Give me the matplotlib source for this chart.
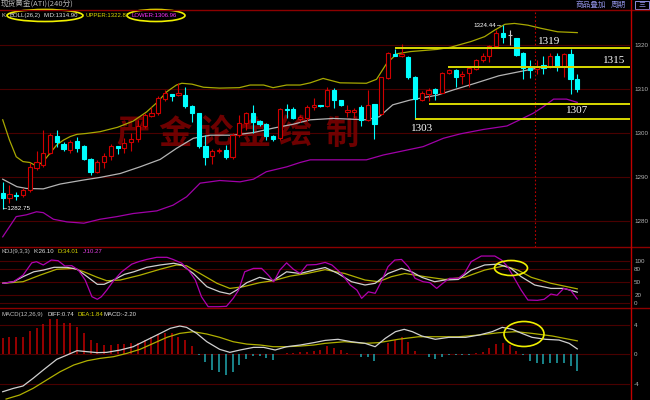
import numpy as np
import matplotlib
matplotlib.use("Agg")
import matplotlib.pyplot as plt
from matplotlib.patches import Ellipse, Rectangle

plt.rcParams['font.family'] = ['Liberation Sans', 'Noto Sans CJK SC', 'DejaVu Sans']

# 240-minute candles of spot gold
opens = [1286.3, 1285.2, 1286.0, 1285.9, 1287.0, 1292.0, 1292.7, 1295.5, 1299.3, 1297.4,
         1296.1, 1298.2, 1297.0, 1294.0, 1291.2, 1293.3, 1294.7, 1297.0, 1296.7, 1298.0,
         1298.6, 1301.6, 1303.9, 1304.6, 1307.8, 1308.9, 1308.7, 1308.6, 1306.1, 1304.6,
         1297.0, 1294.8, 1296.0, 1296.2, 1294.6, 1299.5, 1302.3, 1304.6, 1302.7, 1302.0,
         1299.3, 1298.8, 1305.5, 1305.4, 1303.1, 1303.3, 1305.8, 1306.2, 1306.1, 1309.8,
         1307.5, 1304.8, 1304.8, 1305.8, 1303.0, 1306.6, 1304.3, 1312.4, 1318.0, 1317.5,
         1317.3, 1312.8, 1307.5, 1308.9, 1309.9, 1309.2, 1313.6, 1314.3, 1313.0, 1313.6,
         1314.6, 1316.6, 1317.4, 1319.8, 1322.7, 1322.2, 1321.5, 1318.1, 1314.7, 1314.6,
         1315.4, 1315.0, 1317.5, 1315.1, 1317.9, 1312.2]
highs = [1288.9, 1288.2, 1286.7, 1287.4, 1293.1, 1295.8, 1300.7, 1299.9, 1300.7, 1297.9,
         1298.4, 1299.1, 1297.2, 1294.3, 1293.9, 1295.4, 1297.6, 1297.0, 1298.8, 1299.9,
         1303.0, 1304.5, 1306.0, 1308.3, 1309.8, 1308.9, 1311.3, 1310.5, 1306.4, 1304.6,
         1299.5, 1296.3, 1296.6, 1297.2, 1299.9, 1304.1, 1304.8, 1306.4, 1302.9, 1302.3,
         1299.5, 1305.6, 1306.7, 1305.8, 1304.1, 1306.3, 1307.9, 1306.3, 1310.5, 1310.2,
         1307.6, 1306.4, 1305.6, 1306.3, 1309.8, 1306.6, 1312.7, 1318.3, 1319.2, 1320.2,
         1317.5, 1312.9, 1309.6, 1310.2, 1310.2, 1313.8, 1314.5, 1314.5, 1314.2, 1315.1,
         1316.9, 1318.1, 1320.0, 1323.4, 1324.44, 1323.4, 1321.7, 1318.3, 1316.6, 1316.7,
         1317.4, 1318.1, 1318.1, 1318.1, 1319.2, 1313.5]
lows = [1282.75, 1284.0, 1284.8, 1285.5, 1286.7, 1291.6, 1292.3, 1295.3, 1296.9, 1295.9,
        1295.4, 1295.7, 1293.8, 1290.5, 1290.8, 1292.0, 1293.8, 1295.3, 1295.4, 1295.8,
        1298.0, 1301.2, 1303.7, 1304.2, 1307.3, 1307.3, 1308.5, 1305.7, 1302.6, 1296.5,
        1292.7, 1292.9, 1295.5, 1294.0, 1294.0, 1299.1, 1300.7, 1300.0, 1301.5, 1298.5,
        1298.2, 1298.4, 1303.3, 1303.1, 1302.6, 1302.7, 1305.3, 1306.0, 1305.9, 1305.6,
        1306.1, 1303.7, 1303.5, 1301.6, 1302.7, 1298.6, 1304.1, 1312.2, 1317.6, 1317.3,
        1312.3, 1303.1, 1307.3, 1307.3, 1307.6, 1309.0, 1313.4, 1310.5, 1311.2, 1310.5,
        1314.4, 1316.1, 1316.1, 1319.6, 1320.5, 1320.0, 1317.4, 1312.2, 1312.4, 1313.3,
        1313.3, 1314.7, 1314.1, 1312.8, 1308.9, 1309.3]
closes = [1285.2, 1286.2, 1285.6, 1287.0, 1292.3, 1293.5, 1295.5, 1299.5, 1298.0, 1296.3,
          1298.0, 1296.5, 1294.0, 1291.2, 1293.3, 1294.8, 1297.0, 1296.6, 1297.8, 1298.7,
          1301.6, 1304.1, 1304.6, 1307.9, 1309.2, 1308.5, 1309.2, 1306.1, 1304.6, 1297.0,
          1294.6, 1295.8, 1296.2, 1294.6, 1299.5, 1302.3, 1304.6, 1302.6, 1302.0, 1299.3,
          1298.7, 1305.4, 1305.3, 1303.3, 1303.7, 1305.8, 1306.4, 1306.1, 1309.8, 1307.5,
          1306.4, 1305.3, 1305.2, 1303.0, 1306.4, 1302.0, 1312.7, 1318.1, 1317.6, 1318.0,
          1312.7, 1307.7, 1309.2, 1309.8, 1309.2, 1313.6, 1314.3, 1312.7, 1313.4, 1314.7,
          1316.6, 1317.5, 1319.8, 1322.7, 1321.8, 1322.2, 1317.7, 1314.7, 1314.3, 1315.0,
          1314.8, 1317.5, 1315.1, 1317.9, 1312.2, 1309.9]

# BOLL(26,2) bands, sampled at candle positions
upper_i = [0, 1, 2, 3, 4, 5, 6, 7, 8, 9, 10, 11, 12.4, 14.4, 17, 19.3, 21.3, 22.8, 24.3, 25.7,
           26.5, 28, 29.7, 32.1, 35, 36.6, 38.6, 40, 42, 44, 45.5, 47.4, 49.9, 53.8, 55.3,
           56.8, 58.3, 60.3, 64.3, 66.3, 69.3, 71.3, 72.8, 74.3, 75.7, 77.7, 79.6, 82.1, 85]
upper_p = [1303.0, 1298.4, 1294.6, 1293.5, 1293.3, 1292.5, 1293.5, 1295.4, 1297.3, 1298.4,
           1299.2, 1299.7, 1299.9, 1300.3, 1301.3, 1302.7, 1304.8, 1306.9, 1309.4, 1310.9,
           1311.3, 1311.1, 1310.4, 1310.2, 1310.3, 1310.9, 1310.9, 1310.3, 1310.9, 1310.9,
           1311.4, 1312.4, 1311.4, 1311.3, 1312.2, 1315.8, 1318.0, 1318.5, 1319.0, 1319.5,
           1320.8, 1321.9, 1323.4, 1324.7, 1324.9, 1324.5, 1323.8, 1323.0, 1322.81]
mid_i = [0, 2.1, 3.5, 6, 8.5, 11.9, 14.4, 17.4, 20.3, 23.3, 25.7, 28.2, 30.7, 34.1, 37.1, 40,
         43, 45.5, 48.9, 53.8, 55.7, 57.7, 60.3, 64.3, 66.7, 69.9, 73.4, 77.3, 80.3, 85]
mid_p = [1289.5, 1287.8, 1287.4, 1287.3, 1288.4, 1289.3, 1289.9, 1290.8, 1292.3, 1294.0,
         1296.5, 1298.8, 1299.5, 1299.5, 1300.1, 1301.1, 1302.0, 1303.0, 1303.3, 1303.0,
         1303.7, 1306.4, 1307.5, 1308.6, 1309.8, 1311.3, 1313.0, 1314.2, 1315.1, 1314.90]
lower_i = [0, 1, 2, 3.5, 5, 6, 7.5, 9.5, 12, 14.4, 16.9, 19.3, 22.8, 25.2, 27.2, 29.2, 32.1,
           35.1, 37.1, 39, 42, 44, 45.5, 48.9, 53.8, 56.3, 58.8, 62.2, 65.2, 67.7, 71.1, 74.6,
           76.5, 78.5, 80, 81.5, 83.4, 85]
lower_p = [1276.4, 1278.7, 1281.0, 1281.4, 1282.1, 1281.9, 1280.4, 1279.8, 1279.5, 1280.4,
           1281.0, 1281.7, 1282.3, 1283.6, 1285.5, 1288.6, 1289.2, 1288.9, 1289.5, 1291.2,
           1292.3, 1293.3, 1293.9, 1293.9, 1293.9, 1295.0, 1295.8, 1296.9, 1298.8, 1299.8,
           1300.8, 1301.6, 1303.0, 1304.5, 1306.0, 1307.7, 1307.7, 1306.96]

# hand-drawn support / resistance levels
levels = [1319.4, 1315.1, 1306.7, 1303.2]
level_start = [58.1, 65.9, 63.1, 61.0]
level_text = ['1319', '1315', '1307', '1303']

# KDJ(9,3,3)
k_i = [0, 1.6, 3, 4.6, 6, 7.6, 9.5, 11, 12.5, 14, 15, 16.4, 18, 19.4, 21.3, 23.3, 25.3, 26.5,
       28.2, 30.2, 32.1, 33.6, 34.6, 36.1, 38, 40, 42, 44, 46, 47.7, 49.6, 51.6, 53.6, 55.1,
       57, 59, 60.5, 62, 63.9, 65.4, 67.4, 69.3, 71.3, 73.3, 75.2, 76.7, 78.7, 81.1, 83, 85]
k_v = [47, 50.7, 62.5, 74, 78, 84.5, 84.5, 80, 62.5, 44.6, 44.6, 54.7, 68, 74, 84.5, 90, 94, 90,
       70, 39, 27, 21.8, 31, 48.4, 61, 53, 74, 70, 78, 84, 70, 50.7, 43, 47,
       70, 82, 74, 61, 50.7, 54.7, 56, 78, 90, 92, 82, 62.5, 43, 35, 35, 26.10]
d_i = [0, 3, 5.5, 8, 10.5, 12, 14, 15.4, 17.4, 20.3, 23.3, 25.7, 27.2, 29.2, 31.7, 33.6, 35.6,
       38, 40, 42.5, 45, 47.7, 50.6, 53.6, 55.6, 57.5, 59.5, 62.5, 65.4, 68.3, 71.3, 74.2,
       76.2, 78.2, 81.1, 85]
d_v = [47, 50.7, 66, 80, 82, 74, 61, 53, 54.7, 66, 80, 90, 88, 70, 47, 35, 39,
       48.4, 53, 63.8, 70, 79, 70, 54.7, 50.7, 62.5, 70, 62.5, 56, 61, 78, 88,
       78, 61, 47, 34.01]
j_i = [0, 1.6, 3, 4.3, 5, 6, 7.2, 8.2, 9.2, 10.2, 11.2, 12.2, 13.2, 14, 14.6, 15.4, 16.4, 17.6,
       19.1, 20.1, 21.3, 22.8, 24.3, 25.2, 26.5, 27.5, 28.5, 29.4, 30.4, 31.9, 33.1, 34.1,
       34.9, 35.8, 37.1, 38.3, 39.3, 40.1, 41, 42, 43, 44, 45, 46.4, 47.7, 48.7, 50.1, 51.4,
       52.4, 53.1, 54.1, 55.1, 56, 57, 58, 59, 60, 61, 62.2, 63.2, 64.2, 65.1, 66.1, 67.4,
       68.3, 69.3, 70.8, 72.8, 73.8, 74.7, 75.7, 76.7, 77.7, 79.1, 80.1, 81.1, 82, 83, 84, 85]
j_v = [47, 50.7, 66, 95, 97.7, 90, 101.6, 100, 87.6, 88.5, 78, 54.7, 15.5, 9.4, 15.5, 31, 53, 74,
       92, 97.7, 103, 108, 108, 103, 94, 78, 54.7, 15.5, -8, -8, -7, 11.7,
       31, 74, 82, 82, 66, 50.7, 78, 95, 80, 70, 90, 91, 96, 90, 70, 43,
       31, 11.7, 27, 23.5, 50.7, 86, 101.6, 103, 86, 58.7, 50.7, 48.4, 35, 47, 58.7, 58.7,
       70, 97.7, 111, 111, 101.6, 86, 58.7, 31, 7.7, 7, 9.4, 21.8, 18.8, 35, 31, 10.27]

# MACD(12,26,9): histogram per candle, DIFF and DEA lines
macd_hist = [2.18, 2.32, 2.32, 2.4, 3.18, 3.63, 4.13, 4.82, 4.82, 4.31,
             4.23, 3.68, 2.86, 1.95, 1.5, 1.27, 1.27, 1.4, 1.4, 1.5,
             1.59, 1.95, 2.4, 2.77, 2.86, 2.86, 2.4, 1.95, 1.13, -0.1,
             -1.0, -2.14, -2.37, -2.82, -2.37, -1.46, -0.68, -0.23, -0.23, -0.55,
             -0.78, 0.05, 0.23, 0.23, 0.27, 0.36, 0.5, 0.59, 1.13, 0.82,
             0.59, 0.23, 0.02, -0.41, -0.32, -0.87, 0.1, 1.5, 1.95, 2.32,
             1.72, 0.5, 0.02, -0.32, -0.68, -0.32, -0.14, -0.14, -0.14, -0.14,
             0.23, 0.36, 0.82, 1.4, 1.5, 1.27, 0.5, -0.05, -0.87, -1.14,
             -1.32, -1.14, -1.23, -1.14, -1.55, -2.23]
diff_i = [0, 1.6, 3, 4.5, 6, 8, 9.5, 11, 12.5, 14, 15.4, 17.4, 19.3, 21.3, 23.3, 24.8, 26.2,
          27.2, 28.7, 30.2, 32.1, 33.6, 35.1, 37.1, 38.6, 40.3, 42, 44, 46, 47.7, 49.6, 51.6,
          53.6, 55.1, 56.6, 58.1, 59.4, 60.6, 62, 64, 66, 68.5, 70.5, 72.4, 73.9, 75.4, 76.8,
          78.3, 80.3, 82.3, 83.8, 85]
diff_v = [-5.1, -4.64, -4.32, -3.27, -2.14, -0.68, -0.1, 0.5, 0.36, 0.23, 0.27, 0.59, 1.04,
          1.95, 2.86, 3.55, 3.86, 3.68, 2.86, 1.72, 0.68, 0.27, 0.59, 0.95, 0.95, 0.59, 1.04,
          1.27, 1.59, 1.9, 2.05, 1.72, 1.5, 1.04, 2.18, 3.09, 3.41, 3.09, 2.5, 2.05, 2.32,
          2.32, 2.64, 3.09, 3.68, 3.41, 2.86, 2.32, 2.05, 1.95, 1.5, 0.74]
dea_i = [0.5, 2.5, 4.5, 6.5, 8.5, 10.5, 12.5, 14.4, 16.4, 18.4, 20.3, 22.3, 24.3, 26.2, 28.2,
         30.2, 32.1, 34.1, 36.1, 38.1, 40, 42, 44, 46, 47.7, 50.6, 53.6, 55.6, 58.5, 61.5,
         64.5, 67.4, 70.5, 73.4, 75.9, 78.3, 81.3, 85]
dea_v = [-6.1, -5.55, -4.64, -3.5, -2.37, -1.46, -0.87, -0.55, -0.32, 0.14, 0.68, 1.5, 2.32,
         2.86, 3.09, 2.77, 2.32, 1.72, 1.4, 1.27, 1.04, 1.04, 1.13, 1.27, 1.5, 1.72, 1.5,
         1.59, 2.05, 2.4, 2.4, 2.4, 2.64, 2.95, 3.09, 2.86, 2.5, 1.84]

W, H = 650, 400
RED = '#d00000'
CYAN = '#00ffff'
GRID = '#4a0000'
SEP = '#8c0000'
YEL = '#d8d800'


def rect(x0, y0, x1, y1):
    # pixel box (top-left origin) -> figure fraction
    return [x0 / W, 1 - y1 / H, (x1 - x0) / W, (y1 - y0) / H]


def style_panel(ax, ylim, ticks, labels):
    ax.set_facecolor('black')
    ax.set_xlim(-0.4, 92.8)
    ax.set_ylim(*ylim)
    for s in ax.spines.values():
        s.set_visible(False)
    ax.set_xticks([])
    ax.set_yticks(ticks)
    ax.set_yticklabels(labels)
    ax.tick_params(axis='y', left=False, labelleft=False, right=False, labelright=True,
                   length=0, pad=3, labelsize=4.5, labelcolor='#b4b4b4')
    for t in ticks:
        ax.axhline(t, color=GRID, lw=0.8, zorder=0)


fig = plt.figure(figsize=(6.5, 4), dpi=100, facecolor='black')
ax_k = fig.add_axes(rect(0, 10, 630, 246.7))
ax_kdj = fig.add_axes(rect(0, 246.7, 630, 308.3))
ax_macd = fig.add_axes(rect(0, 308.3, 630, 400))

style_panel(ax_k, (1274.16, 1327.95), [1280, 1290, 1300, 1310, 1320],
            ['1280', '1290', '1300', '1310', '1320'])
style_panel(ax_kdj, (-11.7, 132.9), [0, 20, 50, 80, 100], ['0', '20', '50', '80', '100'])
style_panel(ax_macd, (-6.23, 6.28), [-4, 0, 4], ['-4', '0', '4'])

# watermark sits under the candles
marks = ['严', '金', '论', '金', '绘', '制']
mark_x = [133, 175, 217, 254, 295, 342]
for ch, x in zip(marks, mark_x):
    ax_k.text(x / W, 1 - 134 / H, ch, transform=fig.transFigure, fontsize=24,
              family=['Noto Sans CJK SC'], weight='bold', color='#7a0000', alpha=0.9,
              ha='center', va='center', zorder=1)

# candles
for i in range(len(opens)):
    o, h, l, c = opens[i], highs[i], lows[i], closes[i]
    if c > o:
        col, face = RED, 'black'
    elif c < o:
        col, face = CYAN, CYAN
    else:
        col, face = '#c8c8c8', '#c8c8c8'
    ax_k.vlines(i, l, h, color=col, lw=0.8, zorder=3)
    ax_k.bar(i, max(abs(c - o), 0.15), 0.62, bottom=min(o, c), facecolor=face,
             edgecolor=col, lw=0.8, zorder=4)

ax_k.plot(upper_i, upper_p, color='#a8a800', lw=0.9, zorder=2)
ax_k.plot(mid_i, mid_p, color='#b4b4b4', lw=0.9, zorder=2)
ax_k.plot(lower_i, lower_p, color='#a000a8', lw=0.9, zorder=2)

for lv, st in zip(levels, level_start):
    ax_k.hlines(lv, st, 92.8, color=YEL, lw=1.4, zorder=5)

ax_k.axvline(78.7, color='#c00000', lw=0.8, ls=(0, (1.5, 2)), zorder=2)

# KDJ
ax_kdj.plot(d_i, d_v, color='#b0b000', lw=0.9)
ax_kdj.plot(k_i, k_v, color='#d0d0d0', lw=0.9)
ax_kdj.plot(j_i, j_v, color='#b000b0', lw=0.9)

# MACD
idx = np.arange(len(macd_hist))
hist = np.array(macd_hist)
ax_macd.vlines(idx[hist >= 0], 0, hist[hist >= 0], color='#c00000', lw=1.1)
ax_macd.vlines(idx[hist < 0], 0, hist[hist < 0], color='#20a8b0', lw=1.1)
ax_macd.plot(dea_i, dea_v, color='#b0b000', lw=0.9)
ax_macd.plot(diff_i, diff_v, color='#d0d0d0', lw=0.9)

# overlay in pixel coordinates for frame, labels and marker ellipses
ov = fig.add_axes([0, 0, 1, 1])
ov.set_xlim(0, W)
ov.set_ylim(H, 0)
ov.axis('off')

for y in [9.5, 246.7, 308.3]:
    ov.plot([0, W], [y, y], color=SEP, lw=1.0)
ov.plot([630.5, 630.5], [0, H], color='#c00000', lw=1.0)

ov.text(1, 5, '现货黄金(ATI)(240分)', fontsize=5.5, color='#b4b4b4', va='center',
        family=['Noto Sans CJK SC'])
ov.text(576, 5, '商品叠加', fontsize=5.5, color='#8c8cdc', va='center',
        family=['Noto Sans CJK SC'])
ov.text(611, 5, '周期', fontsize=5.5, color='#8c8cdc', va='center',
        family=['Noto Sans CJK SC'])
ov.add_patch(Rectangle((635, 1), 14, 8, fill=False, edgecolor='#8c8cdc', lw=0.7))
ov.text(642, 5, '三', fontsize=5, color='#8c8cdc', va='center', ha='center',
        family=['Noto Sans CJK SC'])


def seg(x, y, s, color):
    ov.text(x, y, s, fontsize=4.3, color=color, va='center')


seg(1, 15.5, 'K', '#c8c8c8')
seg(9, 15.5, 'BOLL(26,2)', '#e0e0e0')
seg(44, 15.5, 'MID:1314.90', '#e0e0e0')
seg(85, 15.5, 'UPPER:1322.81', YEL)
seg(131, 15.5, 'LOWER:1306.96', '#ff30ff')

seg(1, 251.7, 'KDJ(9,3,3)', '#c0c0c0')
seg(33, 251.7, 'K:26.10', '#e0e0e0')
seg(57, 251.7, 'D:34.01', YEL)
seg(83, 251.7, 'J:10.27', '#e040e0')

seg(1, 314.3, 'MACD(12,26,9)', '#c0c0c0')
seg(47, 314.3, 'DIFF:0.74', '#e0e0e0')
seg(77, 314.3, 'DEA:1.84', YEL)
seg(103, 314.3, 'MACD:-2.20', '#e0e0e0')

ov.text(473, 25.7, '1324.44→', fontsize=4.5, color='white', va='center')
ov.text(2, 208.3, '←1282.75', fontsize=4.5, color='white', va='center')

for s, x, y in zip(level_text, [549, 614, 577, 422], [42, 60.7, 110.7, 128.3]):
    ov.text(x, y, s, fontsize=8, color='white', ha='center', va='center',
            family=['Liberation Serif'])

for cx, cy, w, h in [(45, 15.5, 76, 12), (156, 15.5, 58, 12), (511, 268, 33, 15),
                     (524, 334, 40, 25)]:
    ov.add_patch(Ellipse((cx, cy), w, h, fill=False, edgecolor='#f0f000', lw=1.2))

fig.savefig('out.png', dpi=100, facecolor='black')
